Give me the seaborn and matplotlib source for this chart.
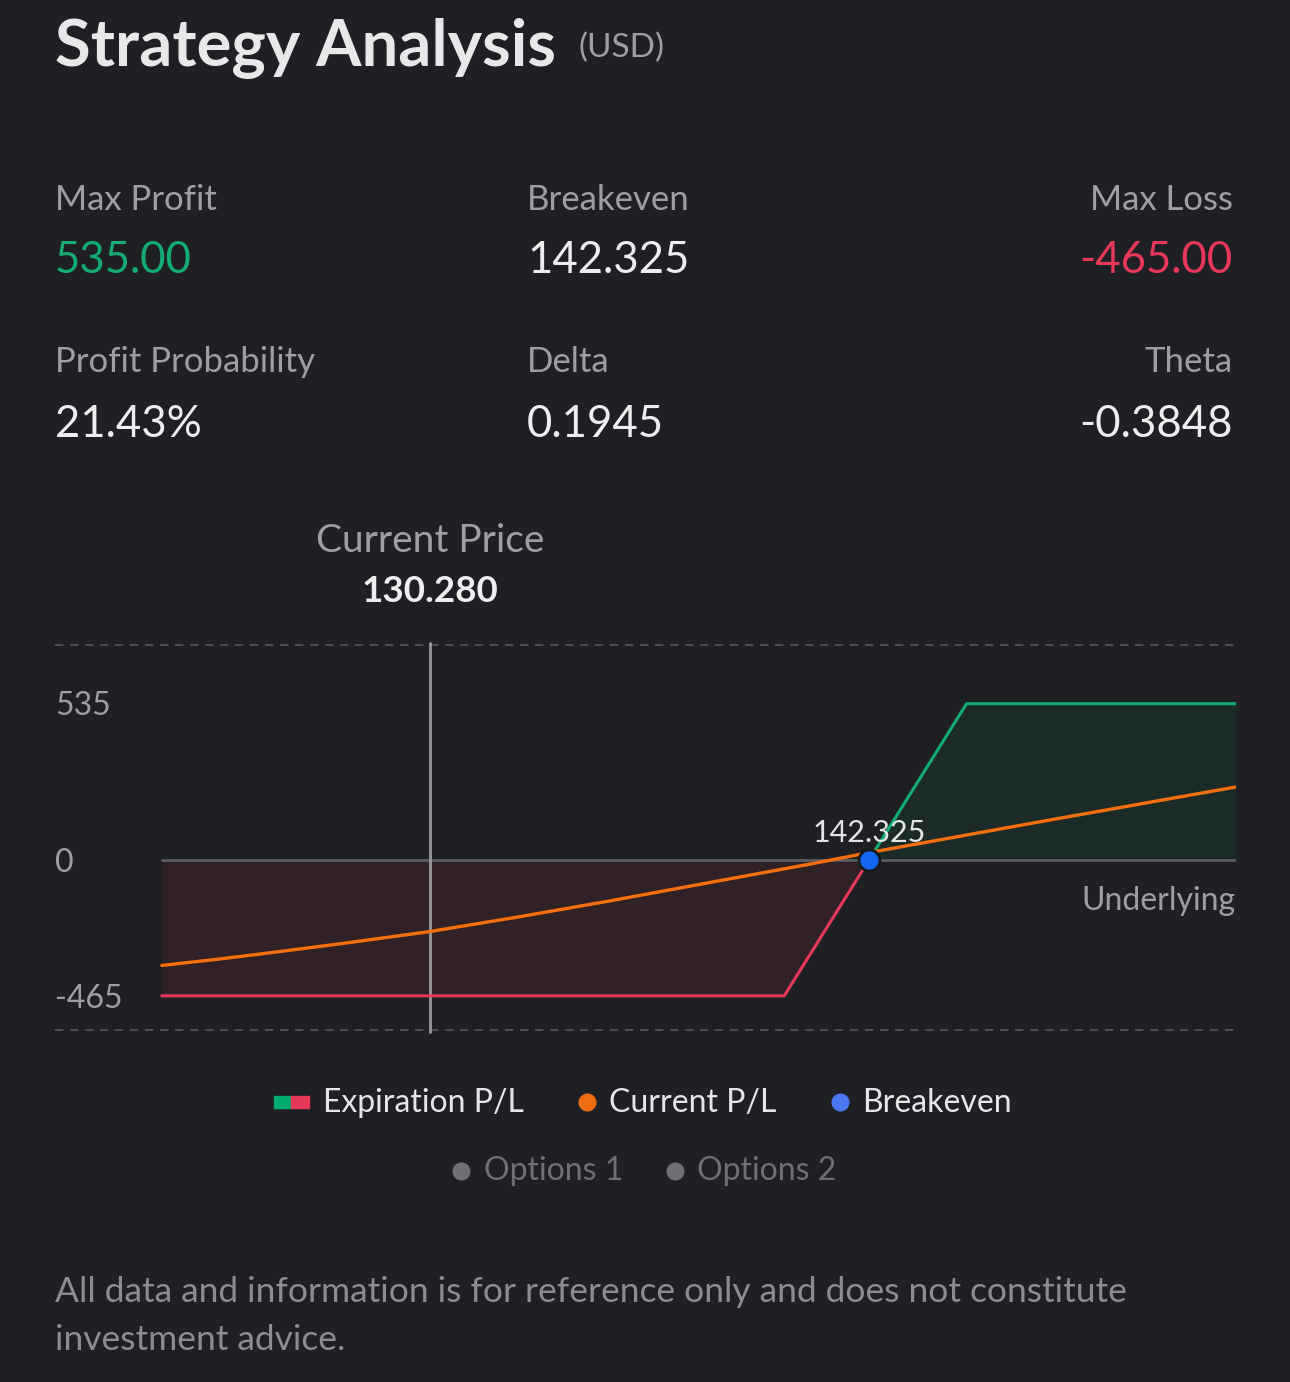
import matplotlib
matplotlib.use("Agg")
import matplotlib.pyplot as plt
from matplotlib.lines import Line2D
from matplotlib.patches import Rectangle
import seaborn as sns
import pandas as pd

# ---- data ----
current_price = 130.280
breakeven = 142.325
max_profit = 535
max_loss = -465

# expiration P/L (bull call spread shape)
exp_loss_x = [122.93, 140.0, 142.325]
exp_loss_y = [-465, -465, 0]
exp_gain_x = [142.325, 145.0, 152.39]
exp_gain_y = [0, 535, 535]

# current (theoretical) P/L curve
cur_x = [122.93, 124.3, 125.62, 127.81, 130.28, 132.75, 135.22, 137.96, 140.71, 142.27, 147.29, 152.39]
cur_y = [-361, -342, -322, -287, -245, -194, -140, -77, -14, 24, 137, 250]

y_ticks = [535, 0, -465]

stats_labels = [["Max Profit", "Breakeven", "Max Loss"],
                ["Profit Probability", "Delta", "Theta"]]
stats_values = [["535.00", "142.325", "-465.00"],
                ["21.43%", "0.1945", "-0.3848"]]

# ---- style ----
BG = "#1f2023"
GREEN = "#12ad74"
RED = "#e8385a"
ORANGE = "#f5700c"
BLUE = "#1466f5"
LABEL = "#9e9fa3"
WHITE = "#eeeef0"

sns.set_theme(style="dark", rc={"axes.facecolor": BG, "figure.facecolor": BG})
plt.rcParams['font.family'] = ['Lato', 'DejaVu Sans']

W, H = 1290, 1382
fig = plt.figure(figsize=(W / 100, H / 100), dpi=100)


def fx(x):
    return x / W


def fy(y):
    return 1 - y / H


def ftext(x, y, s, **kw):
    fig.text(fx(x), fy(y), s, va="baseline", **kw)


# header
ftext(55, 66, "Strategy Analysis", fontsize=47, fontweight="bold", color="#e8e8ea")
ftext(578, 57, "(USD)", fontsize=24, color=LABEL)

xs = [(55, "left"), (527, "left"), (1233, "right")]
rows = [(210, 273), (372, 437)]
for r, (yl, yv) in enumerate(rows):
    for c, (x, ha) in enumerate(xs):
        ftext(x, yl, stats_labels[r][c], fontsize=25, color=LABEL, ha=ha)
        col = WHITE
        if r == 0 and c == 0:
            col = GREEN
        elif r == 0 and c == 2:
            col = RED
        ftext(x, yv, stats_values[r][c], fontsize=31.5, color=col, ha=ha)

ftext(430, 552, "Current Price", fontsize=28, color=LABEL, ha="center")
ftext(430, 602, f"{current_price:.3f}", fontsize=26.5, fontweight="bold", color=WHITE, ha="center")

# ---- chart ----
ax = fig.add_axes([fx(55), fy(1030), fx(1236) - fx(55), fy(645) - fy(1030)])
ax.set_xlim(120.0, 152.39)
ax.set_ylim(-582, 736)
for s in ax.spines.values():
    s.set_visible(False)
ax.set_xticks([])
ax.set_yticks([])
ax.grid(False)

for yy in [736, -582]:
    ax.axhline(yy, color="#55565a", lw=1.2, ls=(0, (5, 4)), clip_on=False)

ax.fill_between(exp_loss_x, exp_loss_y, 0, color="#302127", lw=0, zorder=1)
ax.fill_between(exp_gain_x, exp_gain_y, 0, color="#1c2b28", lw=0, zorder=1)
ax.plot([exp_loss_x[0], exp_gain_x[-1]], [0, 0], color="#5b5c60", lw=2, zorder=2)
ax.axvline(current_price, ymin=-0.005, ymax=1.005, color="#9b9b9d", lw=2, zorder=2, clip_on=False)

sns.lineplot(x=exp_loss_x, y=exp_loss_y, color=RED, lw=2.2, ax=ax, zorder=3)
sns.lineplot(x=exp_gain_x, y=exp_gain_y, color=GREEN, lw=2.2, ax=ax, zorder=3)
cur = pd.DataFrame({"price": cur_x, "pl": cur_y})
sns.lineplot(data=cur, x="price", y="pl", color=ORANGE, lw=2.4, ax=ax, zorder=4, sort=False)
sns.scatterplot(x=[breakeven], y=[0], s=230, color=BLUE, edgecolor="#18191b",
                linewidth=2, ax=ax, zorder=5)
ax.set_xlabel("")
ax.set_ylabel("")

# breakeven label sits just above the dot
ax.text(breakeven, (860 - 842) * 3.425, f"{breakeven:.3f}", fontsize=22,
        color="#e4e4e6", ha="center", va="baseline", zorder=6)

for v, base in zip(y_ticks, [715, 872, 1008]):
    ftext(55, base, str(v), fontsize=23, color=LABEL, ha="left")
ftext(1236, 910, "Underlying", fontsize=23, color=LABEL, ha="right")

# ---- legend ----
fig.add_artist(Rectangle((fx(274), fy(1108)), fx(17), fy(1096) - fy(1108), color="#00ab6e",
                         transform=fig.transFigure))
fig.add_artist(Rectangle((fx(291), fy(1108)), fx(18), fy(1096) - fy(1108), color="#e8385a",
                         transform=fig.transFigure))
ftext(323, 1112, "Expiration P/L", fontsize=23, color="#e6e6e8")


def dot(x, y, c):
    fig.add_artist(Line2D([fx(x)], [fy(y)], marker="o", ms=12, color=c, mec=c,
                          transform=fig.transFigure))


dot(587, 1102, "#ee6c12")
ftext(609, 1112, "Current P/L", fontsize=23, color="#e6e6e8")
dot(840, 1102, "#4a78f2")
ftext(862, 1112, "Breakeven", fontsize=23, color="#e6e6e8")
dot(461, 1171, "#6f7074")
ftext(484, 1180, "Options 1", fontsize=23, color="#6f7074")
dot(675, 1171, "#6f7074")
ftext(697, 1180, "Options 2", fontsize=23, color="#6f7074")

ftext(55, 1302, "All data and information is for reference only and does not constitute",
      fontsize=25.5, color="#8c8d91")
ftext(55, 1350, "investment advice.", fontsize=25.5, color="#8c8d91")

fig.savefig("out.png", dpi=100, facecolor=BG)
